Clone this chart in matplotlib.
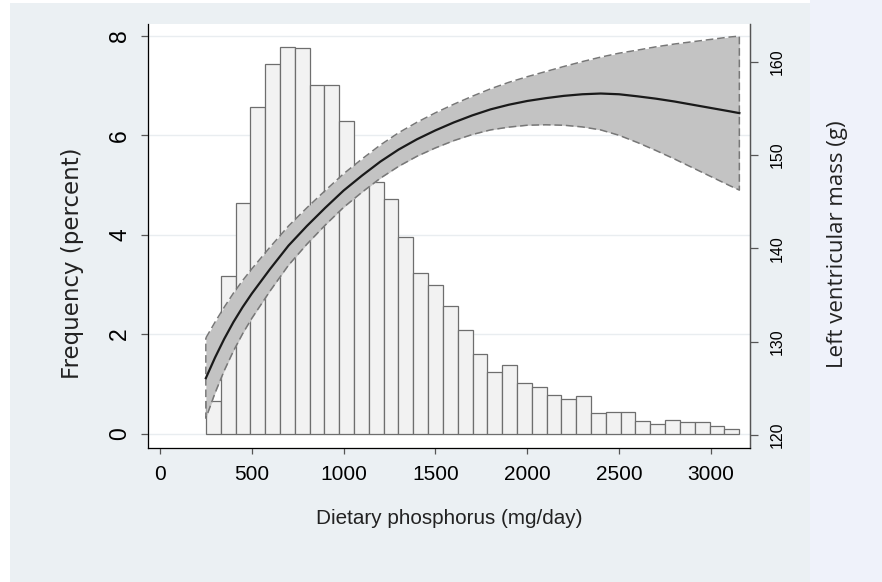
import matplotlib
matplotlib.use("Agg")
import matplotlib.pyplot as plt
from matplotlib.patches import Rectangle

# histogram of dietary phosphorus (percent per bin)
bin_start = 250.5
bin_width = 80.65
freq_pct = [0.65, 3.18, 4.64, 6.58, 7.43, 7.77, 7.75, 7.02, 7.01, 6.29,
            5.40, 5.07, 4.72, 3.95, 3.24, 2.98, 2.57, 2.08, 1.60, 1.23,
            1.37, 1.02, 0.93, 0.77, 0.70, 0.75, 0.42, 0.43, 0.43, 0.25,
            0.20, 0.28, 0.23, 0.23, 0.15, 0.09]

# fitted left ventricular mass with 95% CI
phos = [250, 300, 350, 400, 450, 500, 600, 700, 800, 900,
        1000, 1100, 1200, 1300, 1400, 1500, 1600, 1700, 1800, 1900,
        2000, 2100, 2200, 2300, 2400, 2500, 2600, 2700, 2800, 2900,
        3000, 3100, 3155]
lvm_fit = [126.1, 128.3, 130.3, 132.1, 133.7, 135.15, 137.8, 140.3, 142.4, 144.35,
           146.2, 147.8, 149.3, 150.6, 151.7, 152.65, 153.5, 154.25, 154.9, 155.4,
           155.8, 156.1, 156.35, 156.52, 156.6, 156.52, 156.3, 156.05, 155.75, 155.4,
           155.05, 154.7, 154.5]
lvm_hi = [130.4, 132.1, 133.7, 135.2, 136.55, 137.8, 140.15, 142.4, 144.35, 146.2,
          148.0, 149.58, 151.08, 152.4, 153.52, 154.53, 155.45, 156.3, 157.1, 157.8,
          158.4, 158.95, 159.5, 160.02, 160.5, 160.92, 161.25, 161.6, 161.9, 162.15,
          162.4, 162.65, 162.75]
lvm_lo = [121.8, 124.5, 126.9, 129.0, 130.85, 132.5, 135.45, 138.2, 140.45, 142.5,
          144.4, 146.02, 147.52, 148.8, 149.88, 150.77, 151.55, 152.2, 152.7, 153.0,
          153.2, 153.25, 153.2, 153.02, 152.7, 152.12, 151.35, 150.5, 149.6, 148.65,
          147.7, 146.75, 146.25]

xticks = [0, 500, 1000, 1500, 2000, 2500, 3000]
yticks_left = [0, 2, 4, 6, 8]
yticks_right = [120, 130, 140, 150, 160]

W, H = 882, 582
fig = plt.figure(figsize=(W / 100, H / 100), dpi=100, facecolor="white")

# graph region background and right strip
fig.patches.append(Rectangle((10 / W, 0), 800 / W, (H - 3) / H, transform=fig.transFigure,
                             facecolor="#ebf0f3", edgecolor="none", zorder=-10))
fig.patches.append(Rectangle((810 / W, 0), 72 / W, 1, transform=fig.transFigure,
                             facecolor="#eff2fa", edgecolor="none", zorder=-10))

ax = fig.add_axes([148 / W, (H - 448) / H, (750 - 148) / W, (448 - 24) / H])
ax.set_facecolor("white")

lefts = [bin_start + i * bin_width for i in range(len(freq_pct))]
ax.bar(lefts, freq_pct, width=bin_width, align="edge", color="#f2f2f2",
       edgecolor="#6e6e6e", linewidth=0.9, zorder=2)

ax.set_xlim(-65, 3213)
ax.set_ylim(-0.29, 8.24)
ax.set_xticks(xticks)
ax.set_yticks(yticks_left)
for v in yticks_left:
    ax.axhline(v, color="#e9edf0", lw=1.0, zorder=1)

tick_font = "Liberation Sans"
ax.tick_params(axis="x", direction="out", length=4, width=0.9, color="#555555",
               pad=8, labelsize=15)
ax.tick_params(axis="y", direction="out", length=5, width=0.9, color="#555555",
               pad=7, labelsize=16.5)
for lab in ax.get_xticklabels():
    lab.set_fontfamily(tick_font)
for lab in ax.get_yticklabels():
    lab.set_fontfamily(tick_font)
    lab.set_rotation(90)
    lab.set_va("center")

ax.spines["top"].set_visible(False)
for s in ("left", "bottom", "right"):
    ax.spines[s].set_color("#555555")
    ax.spines[s].set_linewidth(0.9)

ax2 = ax.twinx()
ax2.set_ylim(118.61, 164.05)
ax2.set_yticks(yticks_right)
ax2.patch.set_visible(False)
ax2.spines["top"].set_visible(False)
ax2.spines["right"].set_color("#555555")
ax2.spines["right"].set_linewidth(0.9)
ax2.tick_params(axis="y", direction="out", length=6, width=0.9, color="#555555",
                pad=8, labelsize=11.5)
for lab in ax2.get_yticklabels():
    lab.set_fontfamily(tick_font)
    lab.set_rotation(90)
    lab.set_va("center")

# CI band with dashed outline, then the fitted line
ax2.fill_between(phos, lvm_lo, lvm_hi, color="#c3c3c3", linewidth=0, zorder=3)
outline_x = phos + phos[::-1] + [phos[0]]
outline_y = lvm_hi + lvm_lo[::-1] + [lvm_hi[0]]
ax2.plot(outline_x, outline_y, color="#777777", lw=1.1, dashes=(5, 2.5), zorder=4)
ax2.plot(phos, lvm_fit, color="#1a1a1a", lw=1.6, zorder=5)

fig.text(449 / W, 1 - 518 / H, "Dietary phosphorus (mg/day)", ha="center", va="center",
         fontsize=14.9, fontfamily="Liberation Sans", color="#222222")
fig.text(72 / W, 1 - 263 / H, "Frequency (percent)", ha="center", va="center",
         rotation=90, fontsize=16.5, fontfamily="DejaVu Sans", color="#222222")
fig.text(837 / W, 1 - 244 / H, "Left ventricular mass (g)", ha="center", va="center",
         rotation=90, fontsize=16, fontfamily="Open Sans", color="#222222")

fig.savefig("out.png", dpi=100, facecolor=fig.get_facecolor())
